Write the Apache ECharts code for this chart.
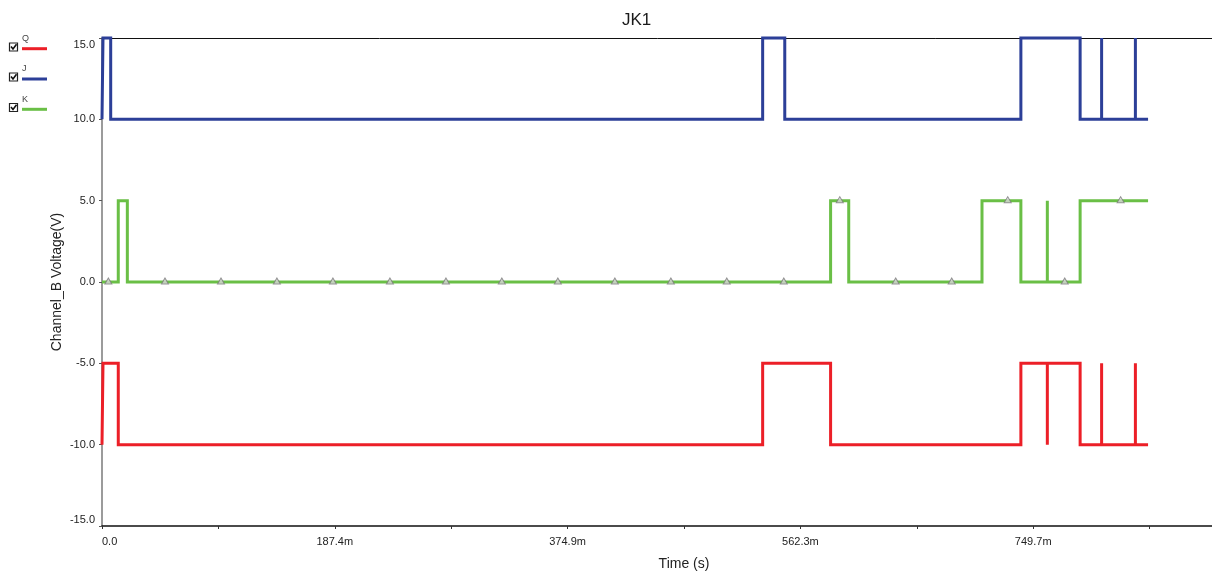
<!DOCTYPE html>
<html>
<head>
<meta charset="utf-8">
<script src="https://cdn.jsdelivr.net/npm/echarts@6/dist/echarts.min.js"></script>
<style>
html,body{margin:0;padding:0;background:#fff;}
#c{width:1212px;height:574px;}
</style>
</head>
<body>
<div id="c"></div>
<script>
// ---- data (time in ms, voltage in V); each point = value from that time on ----
const Q_t = [0, 0.8, 13.1, 531.9, 586.6, 739.8, 761.1, 761.1, 787.5, 804.8, 804.8, 832.0, 832.0, 842.2];
const Q_v = [-10, -5, -10, -5, -10, -5, -10, -5, -10, -5, -10, -5, -10, -10];
const J_t = [0, 0.8, 7.0, 531.9, 549.7, 739.8, 787.5, 804.8, 804.8, 832.0, 832.0, 842.2];
const J_v = [10, 15, 10, 15, 10, 15, 10, 15, 10, 15, 10, 10];
const K_t = [0, 13.1, 20.4, 586.6, 601.2, 708.5, 739.8, 761.1, 761.1, 787.5, 842.2];
const K_v = [0, 5, 0, 5, 0, 5, 0, 5, 0, 5, 5];
// K trace markers
const KM_t = [5.1, 50.7, 95.8, 140.8, 185.9, 231.8, 276.9, 321.9, 367.0, 412.9, 458.0, 503.0, 548.9, 594.0, 639.0, 684.1, 729.2, 775.1, 820.1];
const KM_v = [0, 0, 0, 0, 0, 0, 0, 0, 0, 0, 0, 0, 0, 5, 0, 0, 5, 0, 5];
// axes
const X_INTERVAL = 93.715;
const X_MAX = 937.15;
const Y_MIN = -15, Y_MAX = 15, Y_INTERVAL = 5;
const seriesNames = ['Q', 'J', 'K'];
const seriesColors = ['#ec1f27', '#2c3f98', '#6abf46'];

const zip = (t, v) => t.map((x, i) => [x, v[i]]);
const FONT = 'Liberation Sans';

const chart = echarts.init(document.getElementById('c'), null, {renderer: 'canvas'});

function lineSeries(name, t, v, color) {
  return {
    name, type: 'line', step: 'end', data: zip(t, v),
    showSymbol: false, symbol: 'none', clip: false,
    lineStyle: {color, width: 3, join: 'miter'},
    itemStyle: {color},
    z: 3
  };
}

function checkbox(y) {
  return [
    {type: 'rect', shape: {x: 9.5, y: y - 4, width: 8, height: 8},
     style: {fill: '#fff', stroke: '#222', lineWidth: 1.2}},
    {type: 'polyline', shape: {points: [[11, y - 0.5], [13, y + 2], [16.5, y - 2.8]]},
     style: {stroke: '#111', lineWidth: 1.6, fill: null}}
  ];
}
function label(txt, y) {
  return {type: 'text', x: 22, y: y, style: {text: txt, fontSize: 9, fontFamily: FONT, fill: '#444'}};
}

chart.setOption({
  animation: false,
  backgroundColor: '#fff',
  title: {
    text: 'JK1', left: 622, top: 12, padding: 0,
    textStyle: {fontSize: 17, fontWeight: 'normal', fontFamily: FONT, color: '#1a1a1a'}
  },
  legend: {
    orient: 'vertical', left: 22, top: 47.2, itemGap: 27.3, padding: 0,
    itemWidth: 25, itemHeight: 3, icon: 'rect',
    selectedMode: false,
    data: seriesNames,
    formatter: () => ' ',
    textStyle: {fontSize: 1, lineHeight: 1}
  },
  graphic: [
    ...checkbox(47), ...checkbox(77), ...checkbox(107.5),
    label('Q', 34), label('J', 64), label('K', 95)
  ],
  grid: {left: 102, top: 38, right: -54, bottom: 48, outerBoundsMode: 'none', containLabel: false},
  xAxis: [{
    type: 'value', min: 0, max: X_MAX, interval: X_INTERVAL,
    name: 'Time (s)', nameLocation: 'middle', nameGap: 31, nameMoveOverlap: false,
    nameTextStyle: {fontSize: 14, fontFamily: FONT, color: '#222'},
    axisLine: {show: true, onZero: false, lineStyle: {color: '#111', width: 1.5}},
    axisTick: {show: true, length: 3, lineStyle: {color: '#333'}},
    splitLine: {show: false},
    axisLabel: {
      fontSize: 11, fontFamily: FONT, color: '#222', margin: 10,
      alignMinLabel: 'left',
      formatter: (val, idx) => {
        const k = Math.round(val / X_INTERVAL);
        if (k % 2 !== 0) return '';
        return k === 0 ? '0.0' : val.toFixed(1) + 'm';
      }
    }
  }, {
    type: 'value', position: 'top', min: 0, max: X_MAX,
    axisLine: {show: true, onZero: false, lineStyle: {color: '#111', width: 1}},
    axisTick: {show: false}, axisLabel: {show: false}, splitLine: {show: false}
  }],
  yAxis: {
    type: 'value', min: Y_MIN, max: Y_MAX, interval: Y_INTERVAL,
    name: 'Channel_B Voltage(V)', nameLocation: 'middle', nameGap: 38, nameMoveOverlap: false,
    nameTextStyle: {fontSize: 14, fontFamily: FONT, color: '#222'},
    axisLine: {show: true, onZero: false, lineStyle: {color: '#7a7a7a', width: 1.5}},
    axisTick: {show: true, length: 3, lineStyle: {color: '#555'}},
    splitLine: {show: false},
    axisLabel: {
      fontSize: 11, fontFamily: FONT, color: '#222', margin: 7,
      formatter: (v) => {
        const s = v.toFixed(1);
        if (v === Y_MAX) return '{hi|' + s + '}';
        if (v === Y_MIN) return '{lo|' + s + '}';
        return s;
      },
      rich: {
        hi: {fontSize: 11, fontFamily: FONT, color: '#222', padding: [14, 0, 0, 0]},
        lo: {fontSize: 11, fontFamily: FONT, color: '#222', padding: [0, 0, 12, 0]}
      }
    }
  },
  series: [
    lineSeries('Q', Q_t, Q_v, seriesColors[0]),
    lineSeries('J', J_t, J_v, seriesColors[1]),
    lineSeries('K', K_t, K_v, seriesColors[2]),
    {
      name: 'K markers', type: 'scatter', data: zip(KM_t, KM_v),
      symbol: 'triangle', symbolSize: [7, 6], symbolOffset: [0, -1],
      itemStyle: {color: '#d8d8d8', borderColor: '#7a7a7a', borderWidth: 1},
      clip: false, z: 4, silent: true
    }
  ]
});
</script>
</body>
</html>
